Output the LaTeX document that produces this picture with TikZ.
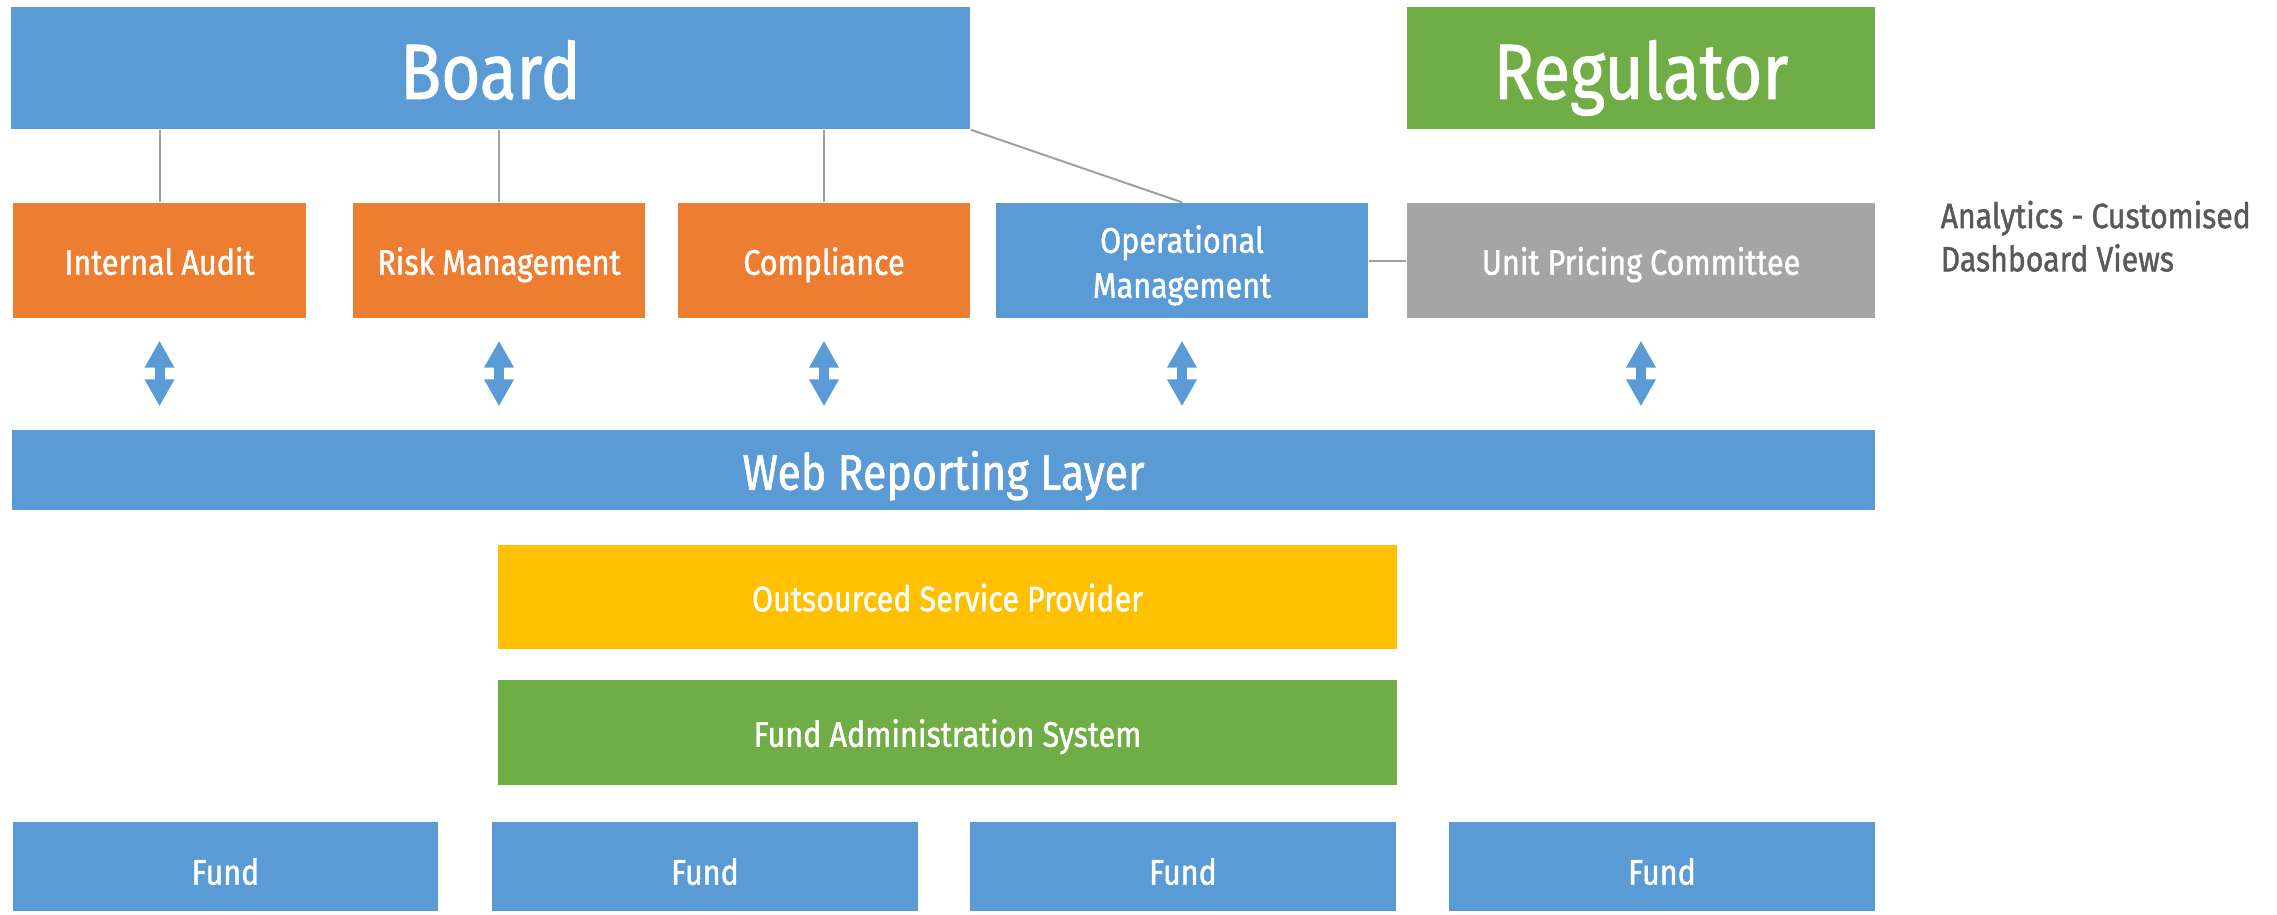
\documentclass[tikz,border=0pt]{standalone}
\usepackage{fontspec}
\setmainfont{Fira Sans}[FakeStretch=0.86, FakeBold=1.2]
\usetikzlibrary{arrows.meta,calc}
\definecolor{cblue}{HTML}{5B9BD5}
\definecolor{corange}{HTML}{ED7D31}
\definecolor{cgreen}{HTML}{70AD47}
\definecolor{cgold}{HTML}{FFC000}
\definecolor{cgray}{HTML}{A5A5A5}
\definecolor{cline}{HTML}{A0A0A0}
\definecolor{ctext}{HTML}{595959}
\tikzset{
  box/.style={inner sep=0pt, text=white, align=center, text depth=0pt},
  bigtxt/.style={font=\fontsize{22.3}{26}\selectfont, text height=17.6pt},
  midtxt/.style={font=\fontsize{10.1}{12.8}\selectfont, text height=8.1pt},
  fundtxt/.style={font=\fontsize{10.1}{12.8}\selectfont, text height=10.3pt},
  twotxt/.style={font=\fontsize{10.1}{12.8}\selectfont, text height=21.2pt},
  webtxt/.style={font=\fontsize{14.2}{17}\selectfont, text height=11.2pt},
  conn/.style={draw=cline, line width=0.02cm},
  dblarrow/.style={draw=cblue, line width=0.10cm,
    {Triangle[width=0.28cm,length=0.27cm]}-{Triangle[width=0.28cm,length=0.27cm]}},
}
\begin{document}
\begin{tikzpicture}
\useasboundingbox (0,0) rectangle (22.77,-9.14);
% top row
\node[box, bigtxt, fill=cblue, minimum width=9.59cm, minimum height=1.22cm] (board) at (4.905,-0.68) {Board};
\node[box, bigtxt, fill=cgreen, minimum width=4.68cm, minimum height=1.22cm] (reg) at (16.41,-0.68) {Regulator};
% second row
\node[box, midtxt, fill=corange, minimum width=2.93cm, minimum height=1.15cm] (ia) at (1.595,-2.605) {Internal Audit};
\node[box, midtxt, fill=corange, minimum width=2.92cm, minimum height=1.15cm] (rm) at (4.99,-2.605) {Risk Management};
\node[box, midtxt, fill=corange, minimum width=2.92cm, minimum height=1.15cm] (comp) at (8.24,-2.605) {Compliance};
\node[box, twotxt, fill=cblue, minimum width=3.72cm, minimum height=1.15cm] (op) at (11.82,-2.605) {Operational\\Management};
\node[box, midtxt, fill=cgray, minimum width=4.68cm, minimum height=1.15cm] (upc) at (16.41,-2.605) {Unit Pricing Committee};
\node[inner sep=0pt, anchor=north west, align=left, text=ctext, font=\fontsize{10.0}{12.3}\selectfont] (ana) at (19.40,-2.00) {Analytics - Customised\\Dashboard Views};
% web layer
\node[box, webtxt, fill=cblue, minimum width=18.63cm, minimum height=0.80cm] (web) at (9.435,-4.70) {Web Reporting Layer};
% provider and system
\node[box, midtxt, fill=cgold, minimum width=8.99cm, minimum height=1.04cm] (osp) at (9.475,-5.97) {Outsourced Service Provider};
\node[box, midtxt, fill=cgreen, minimum width=8.99cm, minimum height=1.05cm] (fas) at (9.475,-7.325) {Fund Administration System};
% funds
\node[box, fundtxt, fill=cblue, minimum width=4.25cm, minimum height=0.89cm] (f1) at (2.255,-8.665) {Fund};
\node[box, fundtxt, fill=cblue, minimum width=4.26cm, minimum height=0.89cm] (f2) at (7.05,-8.665) {Fund};
\node[box, fundtxt, fill=cblue, minimum width=4.26cm, minimum height=0.89cm] (f3) at (11.83,-8.665) {Fund};
\node[box, fundtxt, fill=cblue, minimum width=4.26cm, minimum height=0.89cm] (f4) at (16.62,-8.665) {Fund};
% connectors board
\draw[conn] (ia.north) -- (ia.north |- board.south);
\draw[conn] (rm.north) -- (rm.north |- board.south);
\draw[conn] (comp.north) -- (comp.north |- board.south);
\draw[conn] (board.south east) -- (op.north);
\draw[conn] (op.east) -- (upc.west);
% double arrows
\foreach \n in {ia,rm,comp,op,upc}{
  \draw[dblarrow] ($(\n.south)+(0,-0.22)$) -- ($(\n.south |- web.north)+(0,0.23)$);
}
\end{tikzpicture}
\end{document}
